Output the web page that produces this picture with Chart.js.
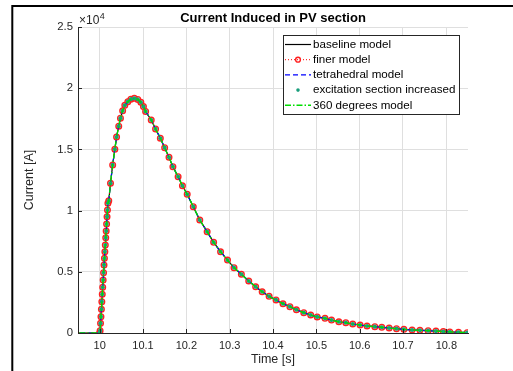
<!DOCTYPE html>
<html>
<head>
<meta charset="utf-8">
<script src="https://cdn.jsdelivr.net/npm/chart.js@4.4.1/dist/chart.umd.min.js"></script>
<style>
  html, body { margin: 0; padding: 0; background: #fff; }
  #wrap { width: 513px; height: 371px; }
</style>
</head>
<body>
<div id="wrap"><canvas id="chart" width="513" height="371"></canvas></div>
<script>
// data (time in s, current in A)
const timeS = [9.9, 10.000, 10.001, 10.002, 10.003, 10.004, 10.005, 10.006, 10.007, 10.008, 10.009,
  10.010, 10.011, 10.012, 10.013, 10.014, 10.015, 10.016, 10.017, 10.018, 10.019, 10.021, 10.025,
  10.030, 10.035, 10.039, 10.044, 10.048, 10.053, 10.058, 10.065, 10.072, 10.080, 10.088, 10.095,
  10.101, 10.106, 10.119, 10.129, 10.140, 10.150, 10.160, 10.169, 10.181, 10.191, 10.202, 10.216,
  10.231, 10.248, 10.263, 10.279, 10.295, 10.310, 10.327, 10.344, 10.360, 10.375, 10.391, 10.407,
  10.423, 10.439, 10.454, 10.471, 10.487, 10.502, 10.520, 10.535, 10.552, 10.568, 10.584, 10.601,
  10.617, 10.635, 10.651, 10.668, 10.685, 10.702, 10.721, 10.739, 10.758, 10.776, 10.793, 10.808,
  10.828, 10.848];
const currentA = [0, 0, 190, 790, 1330, 1940, 2560, 3160, 3730, 4330, 4930,
  5560, 6100, 6640, 7190, 7790, 8330, 8900, 9500, 10050, 10600, 10800, 12230,
  13730, 15010, 16010, 16900, 17550, 18150, 18600, 18900, 19100, 19170, 19080, 18850,
  18500, 18100, 17400, 16670, 15910, 15140, 14360, 13590, 12770, 12030, 11330, 10320,
  9230, 8280, 7410, 6640, 5960, 5340, 4800, 4250, 3780, 3370, 3000, 2700,
  2390, 2150, 1900, 1660, 1470, 1310, 1200, 1060, 920, 840, 735, 655,
  570, 515, 465, 410, 350, 300, 245, 220, 190, 160, 120, 90,
  60, 30];
const seriesNames = ['baseline model', 'finer model', 'tetrahedral model',
  'excitation section increased', '360 degrees model'];
const xTicks = [10, 10.1, 10.2, 10.3, 10.4, 10.5, 10.6, 10.7, 10.8];
const yTicks = [0, 5000, 10000, 15000, 20000, 25000];

const FONT = '"Liberation Sans", Arial, Helvetica, sans-serif';
Chart.defaults.font.family = FONT;

const points = () => timeS.map((t, i) => ({ x: t, y: currentA[i] }));

// figure frame (left/top edge of the exported figure)
const frame = {
  id: 'frame',
  beforeDraw(chart) {
    const { ctx } = chart;
    ctx.save();
    ctx.strokeStyle = '#000';
    ctx.lineWidth = 2;
    ctx.beginPath();
    ctx.moveTo(12.3, chart.height); ctx.lineTo(12.3, 6); ctx.lineTo(chart.width, 6);
    ctx.stroke();
    ctx.restore();
  }
};

// matlab style inward ticks + x10^4 exponent
const axisExtras = {
  id: 'axisExtras',
  afterDatasetsDraw(chart) {
    const { ctx, chartArea: a, scales: { x, y } } = chart;
    ctx.save();
    ctx.strokeStyle = '#262626';
    ctx.lineWidth = 1;
    ctx.beginPath();
    x.ticks.forEach(t => {
      const px = Math.round(x.getPixelForValue(t.value)) + 0.5;
      ctx.moveTo(px, a.bottom); ctx.lineTo(px, a.bottom - 4);
    });
    y.ticks.forEach(t => {
      const py = Math.round(y.getPixelForValue(t.value)) + 0.5;
      ctx.moveTo(a.left, py); ctx.lineTo(a.left + 4, py);
    });
    ctx.stroke();
    ctx.fillStyle = '#262626';
    ctx.textBaseline = 'alphabetic';
    ctx.font = '12px ' + FONT;
    ctx.fillText('\u00d710', a.left + 1, a.top - 3);
    const w = ctx.measureText('\u00d710').width;
    ctx.font = '9px ' + FONT;
    ctx.fillText('4', a.left + 1 + w + 0.5, a.top - 8.5);
    ctx.restore();
  }
};

// boxed legend inside the axes, top right
const boxLegend = {
  id: 'boxLegend',
  afterDraw(chart) {
    const { ctx, chartArea } = chart;
    const boxW = 176, boxH = 79, rowH = 15.2;
    const x0 = chartArea.right - 9 - boxW, y0 = chartArea.top + 8;
    ctx.save();
    ctx.fillStyle = '#fff';
    ctx.fillRect(x0, y0, boxW, boxH);
    ctx.strokeStyle = '#262626';
    ctx.lineWidth = 1;
    ctx.strokeRect(x0 + 0.5, y0 + 0.5, boxW, boxH);
    ctx.font = '11.6px ' + FONT;
    ctx.textBaseline = 'middle';
    chart.data.datasets.forEach((ds, i) => {
      const y = y0 + 9.5 + i * rowH;
      const lx0 = x0 + 2, lx1 = x0 + 28;
      if (ds.showLine !== false) {
        ctx.setLineDash(ds.borderDash || []);
        ctx.strokeStyle = ds.borderColor;
        ctx.lineWidth = ds.borderWidth;
        ctx.beginPath(); ctx.moveTo(lx0, y); ctx.lineTo(lx1, y); ctx.stroke();
        ctx.setLineDash([]);
      }
      if (ds.pointRadius > 0) {
        ctx.beginPath();
        ctx.arc((lx0 + lx1) / 2, y, ds.pointRadius * 0.85, 0, 2 * Math.PI);
        ctx.fillStyle = ds.pointBackgroundColor;
        ctx.fill();
        if (ds.pointBorderWidth) {
          ctx.strokeStyle = ds.pointBorderColor;
          ctx.lineWidth = ds.pointBorderWidth;
          ctx.stroke();
        }
      }
      ctx.fillStyle = '#000';
      ctx.fillText(ds.label, x0 + 30, y);
    });
    ctx.restore();
  }
};

new Chart(document.getElementById('chart'), {
  type: 'line',
  data: {
    datasets: [
      { label: seriesNames[0], data: points(), borderColor: '#000000', borderWidth: 1.2,
        pointRadius: 0, order: 5 },
      { label: seriesNames[1], data: points(), borderColor: '#ff0000', borderWidth: 1, borderDash: [1, 2],
        pointRadius: 2.8, pointBorderWidth: 1.4, pointBorderColor: '#ff2020',
        pointBackgroundColor: 'rgba(255,255,255,0)', order: 4 },
      { label: seriesNames[2], data: points(), borderColor: '#0000ff', borderWidth: 1.2, borderDash: [5, 3],
        pointRadius: 0, order: 3 },
      { label: seriesNames[3], data: points(), showLine: false, borderColor: '#1a9e7c',
        pointRadius: 2.1, pointBorderWidth: 0, pointBackgroundColor: '#1a9e7c', order: 2 },
      { label: seriesNames[4], data: points(), borderColor: '#00dd00', borderWidth: 1.4,
        borderDash: [6, 2, 1.5, 2], pointRadius: 0, order: 1 }
    ]
  },
  options: {
    responsive: false,
    animation: false,
    devicePixelRatio: 1,
    events: [],
    layout: { padding: { left: 13, right: 45, top: 5.5, bottom: 0 } },
    elements: { line: { tension: 0 } },
    scales: {
      x: {
        type: 'linear', min: 9.95, max: 10.85,
        afterBuildTicks: s => { s.ticks = xTicks.map(v => ({ value: v })); },
        afterFit: s => { s.height = 38; },
        grid: { color: '#dfdfdf', drawTicks: false },
        border: { color: '#262626', width: 1 },
        ticks: { color: '#262626', font: { size: 11 }, padding: 6, maxRotation: 0, autoSkip: false,
          callback: v => String(v) },
        title: { display: true, text: 'Time [s]', color: '#262626', font: { size: 12.5 },
          padding: { top: 0, bottom: 4 } }
      },
      y: {
        type: 'linear', min: 0, max: 25000,
        afterBuildTicks: s => { s.ticks = yTicks.map(v => ({ value: v })); },
        afterFit: s => { s.width = 65; },
        grid: { color: '#dfdfdf', drawTicks: false },
        border: { color: '#262626', width: 1 },
        ticks: { color: '#262626', font: { size: 11.3 }, padding: 5, callback: v => String(v / 1e4) },
        title: { display: true, text: 'Current [A]', color: '#262626', font: { size: 12.5 },
          padding: { top: 9.5, bottom: 0 } }
      }
    },
    plugins: {
      legend: { display: false },
      tooltip: { enabled: false },
      title: { display: true, text: 'Current Induced in PV section', color: '#000', fullSize: false,
        font: { size: 13, weight: 'bold' }, padding: { top: 5, bottom: 0.9 } }
    }
  },
  plugins: [frame, axisExtras, boxLegend]
});
</script>
</body>
</html>
